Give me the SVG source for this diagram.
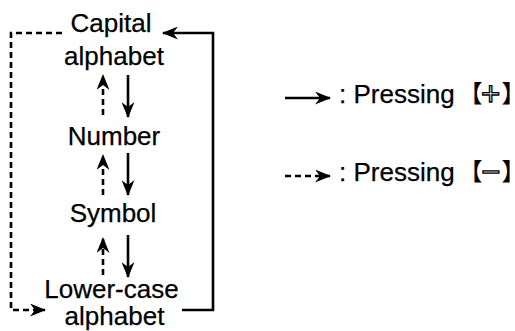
<svg xmlns="http://www.w3.org/2000/svg" width="515" height="331" viewBox="0 0 515 331">
<defs>
<style>
.t{font-family:"Liberation Sans",Arial,sans-serif;font-size:26px;fill:#000;stroke:#000;stroke-width:0.25}
.c{text-anchor:middle}
.ln{fill:none;stroke:#000;stroke-width:2.6}
.d{stroke-dasharray:6,4}
.k{font-family:"Noto Sans CJK JP","Liberation Sans",sans-serif;font-size:24px;fill:#000;font-feature-settings:"palt"}
.o{font-family:"Liberation Sans",Arial,sans-serif;font-size:33px;fill:#e4e4e4;stroke:#000;stroke-width:1.3}
</style>
<marker id="ah" viewBox="0 0 16 13" refX="15" refY="6.5" markerWidth="16" markerHeight="13" markerUnits="userSpaceOnUse" orient="auto">
<path d="M0,0 L16,6.5 L0,13 L5,6.5 Z" fill="#000"/>
</marker>
</defs>
<rect width="515" height="331" fill="#fff"/>
<g id="connectors">
<path class="ln d" d="M103,115 V75" marker-end="url(#ah)"/>
<path class="ln" d="M128,75 V117" marker-end="url(#ah)"/>
<path class="ln d" d="M103,195 V155" marker-end="url(#ah)"/>
<path class="ln" d="M128,153 V195" marker-end="url(#ah)"/>
<path class="ln d" d="M103,275 V238" marker-end="url(#ah)"/>
<path class="ln" d="M128,235 V277" marker-end="url(#ah)"/>
<path class="ln d" d="M62,33 H11 V310 H45" marker-end="url(#ah)"/>
<path class="ln" d="M182,310 H213 V33 H163" marker-end="url(#ah)"/>
</g>
<g id="node-capital"><text class="t c" x="111" y="32">Capital</text><text class="t c" x="114" y="65">alphabet</text></g>
<g id="node-number"><text class="t c" x="114" y="145">Number</text></g>
<g id="node-symbol"><text class="t c" x="113" y="222">Symbol</text></g>
<g id="node-lower"><text class="t c" x="111.5" y="298">Lower-case</text><text class="t c" x="114.5" y="325">alphabet</text></g>
<g id="legend-plus">
<path class="ln" d="M285,98 H330" marker-end="url(#ah)"/>
<text class="t" x="339" y="103">: Pressing</text>
<text class="k" x="470" y="102">【</text>
<text class="o" x="481" y="105">+</text>
<text class="k" x="502" y="102">】</text>
</g>
<g id="legend-minus">
<path class="ln d" d="M285,176 H330" marker-end="url(#ah)"/>
<text class="t" x="339" y="181">: Pressing</text>
<text class="k" x="470" y="180">【</text>
<text class="o" x="481" y="183">−</text>
<text class="k" x="502" y="180">】</text>
</g>
</svg>
